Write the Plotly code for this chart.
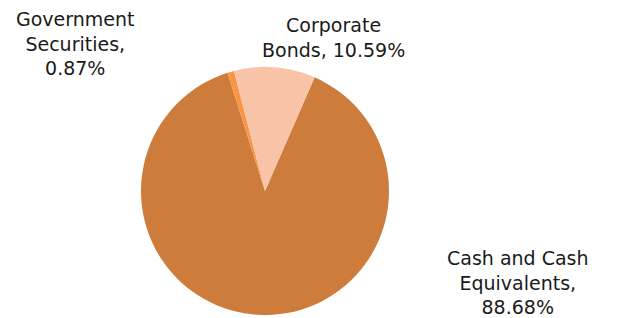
import plotly.graph_objects as go

labels = ["Cash and Cash Equivalents", "Government Securities", "Corporate Bonds"]
values = [88.68, 0.87, 10.59]
label_lines = [["Cash and Cash", "Equivalents,"], ["Government", "Securities,"], ["Corporate", "Bonds,"]]
colors = ["#CD7C3B", "#F79646", "#F9C3A8"]

W, H = 621, 318
OX, OY = 8, 8  # page body margin offset
cx, cy, r = 265 - OX, 191 - OY, 124

fig = go.Figure()
fig.add_trace(go.Pie(
    labels=labels, values=values, sort=False, direction="clockwise", rotation=23.6,
    marker=dict(colors=colors, line=dict(width=0)),
    textinfo="none", hoverinfo="label+percent", showlegend=False,
    domain=dict(x=[(cx - r) / W, (cx + r) / W], y=[1 - (cy + r) / H, 1 - (cy - r) / H]),
))

def txt(i):
    ln = label_lines[i]
    v = f"{values[i]:.2f}%"
    if i == 2:
        return f"{ln[0]}<br>{ln[1]} {v}"
    return f"{ln[0]}<br>{ln[1]}<br>{v}"

font = dict(family="DejaVu Sans, sans-serif", size=19, color="#1a1a1a")
positions = [(75, 44), (333, 38), (518, 282)]
order = [1, 2, 0]
for i, (x, y) in zip(order, positions):
    fig.add_annotation(x=(x - OX) / W, y=1 - (y - OY) / H, xref="paper", yref="paper", text=txt(i),
                       showarrow=False, font=font, align="center", xanchor="center", yanchor="middle")

fig.update_layout(width=W, height=H, margin=dict(l=0, r=0, t=0, b=0),
                  paper_bgcolor="white", plot_bgcolor="white")
fig.write_html("out.html")
